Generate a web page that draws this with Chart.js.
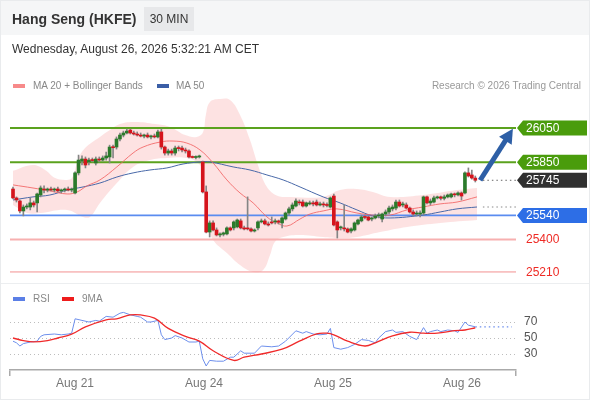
<!DOCTYPE html>
<html><head><meta charset="utf-8">
<script src="https://cdn.jsdelivr.net/npm/chart.js@4.4.0/dist/chart.umd.min.js"></script>
<style>
body{margin:0;background:#fff;font-family:"Liberation Sans",Arial,sans-serif;}
#wrap{position:relative;width:590px;height:400px;overflow:hidden;background:#fff;}
canvas{position:absolute;left:0;}
.t{position:absolute;white-space:nowrap;z-index:3;}
#hdr{position:absolute;left:0;top:0;width:590px;height:35px;background:#f5f6f7;z-index:2;}
.sw{position:absolute;height:4px;width:12px;z-index:3;}
#frame{position:absolute;left:0;top:0;width:588px;height:398px;border:1px solid #e9ebed;z-index:5;pointer-events:none;}
#sep{position:absolute;left:0;top:283px;width:590px;height:1px;background:#eceef0;z-index:3;}
</style></head>
<body><div id="wrap">
<canvas id="main" width="590" height="283" style="top:0;width:590px;height:283px"></canvas>
<canvas id="rsi" width="590" height="117" style="top:283px;width:590px;height:117px"></canvas>
<div id="hdr"></div>
<div class="t" style="left:12px;top:9px;font-size:14px;font-weight:bold;color:#333;line-height:20px">Hang Seng (HKFE)</div>
<div class="t" style="left:144px;top:7px;width:50px;height:24px;line-height:24px;text-align:center;background:#e7e8ea;font-size:12px;color:#333">30 MIN</div>
<div class="t" style="left:12px;top:41px;font-size:12px;color:#333;line-height:16px">Wednesday, August 26, 2026 5:32:21 AM CET</div>
<div class="sw" style="left:13px;top:84px;background:#f78a8a"></div>
<div class="t" style="left:33px;top:79px;font-size:10px;color:#888;line-height:14px">MA 20 + Bollinger Bands</div>
<div class="sw" style="left:157px;top:84px;background:#3b5ea6"></div>
<div class="t" style="left:176px;top:79px;font-size:10px;color:#888;line-height:14px">MA 50</div>
<div class="t" style="right:9px;top:79px;font-size:10px;color:#999;line-height:14px">Research © 2026 Trading Central</div>
<div id="sep"></div>
<div class="sw" style="left:13px;top:297px;background:#5b7fe6"></div>
<div class="t" style="left:33px;top:292px;font-size:10px;color:#888;line-height:14px">RSI</div>
<div class="sw" style="left:62px;top:297px;background:#ee1c1c"></div>
<div class="t" style="left:82px;top:292px;font-size:10px;color:#888;line-height:14px">9MA</div>
<div id="frame"></div>
</div>
<script>
// ---- price candles (30 min bars) ----
const opens = [25694,25642,25624,25566,25589,25589,25613,25613,25659,25694,25688,25694,25688,25694,25683,25688,25694,25688,25671,25788,
25857,25869,25852,25863,25846,25869,25863,25875,25881,25939,25939,25986,26009,26021,26038,26021,26015,26009,26003,26009,
25998,26003,25998,26027,25939,25904,25916,25904,25933,25933,25922,25916,25881,25878,25881,25852,25677,25443,25496,25455,
25426,25430,25432,25467,25467,25473,25508,25467,25467,25461,25449,25467,25502,25508,25490,25502,25502,25508,25496,25519,
25554,25578,25595,25618,25618,25595,25607,25613,25618,25601,25607,25601,25589,25653,25502,25467,25467,25461,25449,25455,
25490,25508,25531,25531,25519,25525,25537,25519,25548,25560,25578,25583,25618,25601,25601,25583,25560,25548,25548,25554,
25648,25613,25618,25642,25648,25640,25648,25648,25665,25660,25671,25671,25788,25776,25758];
const highs = [25706,25648,25630,25601,25607,25642,25624,25671,25712,25712,25700,25706,25700,25706,25694,25700,25706,25700,25794,25892,
25887,25881,25875,25875,25881,25881,25887,25910,25950,25950,25998,26021,26032,26044,26044,26032,26027,26021,26015,26021,
26009,26015,26038,26044,25945,25927,25927,25945,25945,25945,25933,25922,25887,25887,25892,25857,25712,25508,25508,25467,
25438,25443,25473,25473,25508,25519,25519,25478,25648,25467,25461,25508,25519,25519,25502,25531,25519,25513,25531,25560,
25589,25613,25636,25630,25630,25618,25624,25624,25630,25618,25618,25613,25648,25665,25508,25478,25601,25467,25467,25502,
25519,25542,25542,25537,25531,25548,25554,25554,25572,25595,25601,25630,25630,25618,25613,25589,25572,25566,25566,25653,
25653,25636,25653,25653,25653,25659,25665,25671,25671,25677,25677,25794,25817,25805,25770];
const lows = [25636,25618,25554,25537,25578,25572,25589,25560,25648,25671,25677,25683,25677,25677,25671,25677,25683,25677,25665,25776,
25834,25817,25834,25852,25834,25852,25857,25863,25846,25875,25927,25975,25998,26015,26015,26009,26003,25998,25992,25992,
25986,25992,25992,25927,25892,25892,25892,25892,25916,25910,25904,25875,25875,25870,25875,25671,25438,25414,25449,25420,
25414,25420,25426,25449,25455,25467,25461,25455,25455,25443,25443,25455,25496,25484,25478,25490,25490,25490,25467,25513,
25542,25566,25589,25601,25589,25589,25601,25595,25595,25595,25589,25589,25583,25478,25408,25455,25449,25438,25438,25449,
25484,25502,25519,25508,25508,25519,25525,25502,25537,25548,25566,25572,25589,25589,25578,25554,25537,25537,25531,25542,
25607,25601,25613,25636,25630,25630,25642,25642,25648,25653,25630,25665,25764,25752,25735];
const closes = [25642,25630,25566,25589,25595,25613,25601,25665,25700,25688,25694,25688,25694,25683,25688,25694,25688,25694,25788,25863,
25869,25834,25863,25860,25869,25863,25875,25887,25939,25935,25986,26009,26021,26032,26021,26015,26009,26003,26009,25998,
26003,25998,26027,25939,25904,25916,25904,25933,25930,25922,25916,25881,25878,25881,25887,25677,25443,25496,25455,25426,
25430,25438,25467,25455,25502,25513,25467,25461,25461,25449,25455,25502,25508,25490,25484,25496,25508,25500,25525,25554,
25578,25601,25624,25613,25595,25613,25613,25607,25601,25607,25601,25598,25642,25484,25455,25473,25461,25443,25461,25496,
25513,25531,25528,25513,25525,25537,25542,25548,25560,25583,25589,25618,25595,25607,25583,25560,25548,25554,25554,25648,
25613,25624,25642,25648,25640,25648,25659,25665,25660,25671,25653,25788,25770,25758,25745];

// ---- moving averages & Bollinger Bands (bar position, value) ----
const ma20Idx = [0,5.8,10.7,15.7,18.6,21.4,25.2,30.1,34.8,37.7,42.6,46.4,50.4,54.2,58,62,65.8,69.6,73.6,76.5,79.4,83.2,86.1,89.9,93.9,99.7,104.3,109.3,114.2,118.8,123.8,128.7,134.5];
const ma20Val = [25718,25700,25683,25665,25677,25712,25747,25823,25904,25939,25968,25974,25962,25922,25846,25747,25671,25613,25531,25496,25478,25519,25548,25566,25578,25554,25542,25542,25572,25589,25607,25618,25648];
const upperIdx = [0,5.8,9.3,12.2,15.1,17.1,18.8,20.9,25.2,28.1,31,35.4,41.2,45.5,49.9,53.3,55.1,55.9,57.1,60,62.9,65.8,68.7,71,73.6,76.8,80.3,89.9,94.8,99.7,104.3,109.3,118.8,128.7,134.5];
const upperVal = [25800,25834,25805,25758,25747,25758,25863,25933,25998,26038,26073,26085,26073,26056,26009,25998,26027,26126,26202,26219,26213,26126,25980,25834,25706,25653,25648,25648,25688,25694,25677,25648,25659,25688,25700];
const lowerIdx = [0,4.1,7.8,15.7,20.3,22.3,25.2,30.1,34.8,39.7,44.6,50.4,54.2,55.4,56.5,58,62,65.8,69.6,72.5,74.5,75.9,78.3,83.2,89.9,94.8,99.7,106.4,114.2,123.8,134.5];
const lowerVal = [25601,25554,25554,25572,25531,25531,25613,25729,25823,25863,25875,25875,25834,25747,25484,25397,25321,25251,25210,25222,25309,25385,25414,25426,25414,25408,25414,25443,25473,25496,25513];
const ma50Idx = [0,5.8,10.7,15.7,20.3,25.2,30.1,34.8,39.7,44.6,49.3,54.2,57.1,63.8,68.7,73.6,78.3,83.2,89.9,94.8,99.7,104.3,109.3,118.8,123.8,128.7,134.5];
const ma50Val = [25630,25648,25659,25688,25706,25729,25764,25788,25805,25817,25840,25852,25852,25823,25805,25776,25747,25706,25648,25613,25572,25537,25525,25542,25560,25578,25589];

// ---- key levels ----
const resistances = [26050, 25850];
const lastPrice = 25745;
const pivot = 25540;
const supports = [25400, 25210];
const arrowFrom = [135.4, 25745];
const arrowTo = [144.9, 26045];
const extFrom = 136.2;

// ---- RSI ----
const rsiIdx = [0,1,2,3,5,7,8,9,12,14,16,17,18,20,22,24,25,27,29,31,32,34,36,37,39,40,42,43,44,46,47,49,51,53,54,55,56,57,59,61,63,64,66,67,70,72,75,77,79,82,84,85,87,89,91,92,93,95,97,99,101,103,105,106,108,110,111,113,115,117,119,120,121,123,124,126,128,129,131,132,134];
const rsiVal = [46,44,40,43,45,46,52,54,55,54,55,56,74,72,70,72,71,77,76,81,82,79,77,76,70,70,72,54,48,50,53,50,45,45,46,24,15,22,21,21,26,26,34,31,31,40,39,40,46,59,56,58,55,54,55,62,38,36,38,42,48,47,44,50,58,60,57,58,52,48,63,56,58,60,58,60,59,57,70,66,64];
const ma9Idx = [0,3,6,10,13,17,21,27,30,34,37,41,45,50,54,58,64,67,72,78,83,88,91,93,97,102,105,110,115,119,123,128,131,134];
const ma9Val = [50,46.8,45.2,46.8,50,54.8,64,72.8,74,78.8,78.8,74.8,62,52,46,34,22,26,30,36,46,55.2,56,54,46,40,44,52.8,57.2,56,56,59.2,60,62.8];
const rsiTicks = [30, 50, 70];
const dayIdx = [17.97, 55.36, 92.75, 130.14];
const dayLabels = ['Aug 21', 'Aug 24', 'Aug 25', 'Aug 26'];

// ---- build ----
Chart.defaults.font.family = "'Liberation Sans', Arial, sans-serif";
Chart.defaults.animation = false;
const X_MIN = -0.87, X_MAX = 145.8;
const idx = closes.map((_, i) => i);
const pts = (xs, ys) => xs.map((x, k) => ({x: x, y: ys[k]}));
const hline = (v, a, b) => [{x: a, y: v}, {x: b, y: v}];
const lineDs = (data, color, width, order, extra) => Object.assign({type: 'line', data: data, borderColor: color, borderWidth: width, pointRadius: 0, fill: false, order: order}, extra || {});

const GREEN_LINE = '#5ba21e', GREEN_TAG = '#4a9c0c', BLUE_LINE = '#5b8cf0', BLUE_TAG = '#2d6ee6', DARK_TAG = '#303030', RED_TXT = '#ee2a24';

const tagPlugin = {
  id: 'tags',
  afterDraw(chart) {
    const ctx = chart.ctx, ys = chart.scales.y, x0 = chart.chartArea.right;
    const xr = chart.width - 3;
    ctx.save();
    ctx.font = "12px 'Liberation Sans', Arial, sans-serif";
    ctx.textBaseline = 'middle';
    const tag = (p, bg) => {
      const y = ys.getPixelForValue(p);
      ctx.fillStyle = bg;
      ctx.beginPath();
      ctx.moveTo(x0 + 1, y); ctx.lineTo(x0 + 7, y - 7.5); ctx.lineTo(xr, y - 7.5);
      ctx.lineTo(xr, y + 7.5); ctx.lineTo(x0 + 7, y + 7.5); ctx.closePath(); ctx.fill();
      ctx.fillStyle = '#fff';
      ctx.fillText(String(p), x0 + 10, y + 0.5);
    };
    resistances.forEach(p => tag(p, GREEN_TAG));
    tag(lastPrice, DARK_TAG);
    tag(pivot, BLUE_TAG);
    ctx.fillStyle = RED_TXT;
    supports.forEach(p => ctx.fillText(String(p), x0 + 10, ys.getPixelForValue(p) + 0.5));
    ctx.restore();
  },
  afterDatasetsDraw(chart) {
    const ctx = chart.ctx, xs = chart.scales.x, ys = chart.scales.y;
    const x1 = xs.getPixelForValue(arrowFrom[0]), y1 = ys.getPixelForValue(arrowFrom[1]);
    const x2 = xs.getPixelForValue(arrowTo[0]), y2 = ys.getPixelForValue(arrowTo[1]);
    const ang = Math.atan2(y2 - y1, x2 - x1), head = 14, hw = 7.5;
    const bx = x2 - head * Math.cos(ang), by = y2 - head * Math.sin(ang);
    ctx.save();
    ctx.strokeStyle = '#2e5fa6'; ctx.fillStyle = '#2e5fa6'; ctx.lineWidth = 5;
    ctx.beginPath(); ctx.moveTo(x1, y1); ctx.lineTo(bx + Math.cos(ang), by + Math.sin(ang)); ctx.stroke();
    ctx.beginPath(); ctx.moveTo(x2, y2);
    ctx.lineTo(bx + hw * Math.sin(ang), by - hw * Math.cos(ang));
    ctx.lineTo(bx - hw * Math.sin(ang), by + hw * Math.cos(ang));
    ctx.closePath(); ctx.fill();
    ctx.restore();
  }
};

new Chart(document.getElementById('main'), {
  type: 'bar',
  data: {datasets: [
    lineDs(pts(upperIdx, upperVal), 'rgba(0,0,0,0)', 0, 10, {fill: '+1', backgroundColor: 'rgba(252,198,198,0.5)', tension: 0.4}),
    lineDs(pts(lowerIdx, lowerVal), 'rgba(0,0,0,0)', 0, 10, {tension: 0.4}),
    lineDs(hline(resistances[0], X_MIN, X_MAX), GREEN_LINE, 2, 6),
    lineDs(hline(resistances[1], X_MIN, X_MAX), GREEN_LINE, 2, 6),
    lineDs(hline(pivot, X_MIN, X_MAX), BLUE_LINE, 1.6, 6),
    lineDs(hline(supports[0], X_MIN, X_MAX), '#f7b0b0', 2, 6),
    lineDs(hline(supports[1], X_MIN, X_MAX), '#f29090', 1, 6),
    lineDs(hline(lastPrice, extFrom, X_MAX), '#666', 1, 6, {borderDash: [1.5, 3]}),
    lineDs(hline(ma50Val[ma50Val.length - 1], extFrom, X_MAX), '#888', 1, 6, {borderDash: [1.5, 3]}),
    lineDs(pts(ma20Idx, ma20Val), 'rgba(242,100,100,0.85)', 1, 4, {tension: 0.4}),
    lineDs(pts(ma50Idx, ma50Val), '#4868a8', 1, 4, {tension: 0.4}),
    {type: 'bar', data: idx.map(i => ({x: i, y: [lows[i], highs[i]]})), backgroundColor: '#858585', barThickness: 1, grouped: false, order: 2},
    {type: 'bar', data: idx.map(i => ({x: i, y: [opens[i], closes[i]]})),
     backgroundColor: c => closes[c.dataIndex] >= opens[c.dataIndex] ? '#2b7a2b' : '#d5141c',
     barThickness: 3, minBarLength: 1, grouped: false, order: 1}
  ]},
  options: {
    responsive: false, animation: false,
    layout: {padding: {left: 10, right: 74, top: 97, bottom: 3}},
    plugins: {legend: {display: false}, tooltip: {enabled: false}},
    scales: {
      x: {type: 'linear', min: X_MIN, max: X_MAX, offset: false, display: false},
      y: {type: 'linear', min: 25163, max: 26231, display: false}
    }
  },
  plugins: [tagPlugin]
});

new Chart(document.getElementById('rsi'), {
  type: 'line',
  data: {datasets: [
    lineDs(pts(rsiIdx, rsiVal), '#6d8fec', 1, 2),
    lineDs(pts(ma9Idx, ma9Val), '#f02a2a', 1.3, 1, {tension: 0.4}),
    lineDs(hline(rsiVal[rsiVal.length - 1], rsiIdx[rsiIdx.length - 1], 144.6), '#6d8fec', 1.2, 3, {borderDash: [1.5, 3]})
  ]},
  options: {
    responsive: false, animation: false,
    layout: {padding: {left: 10, right: 0, top: 23, bottom: 0}},
    plugins: {legend: {display: false}, tooltip: {enabled: false}},
    scales: {
      x: {type: 'linear', min: X_MIN, max: X_MAX, offset: false, position: 'bottom',
        afterBuildTicks: s => { s.ticks = [X_MIN].concat(dayIdx, [X_MAX]).map(v => ({value: v})); },
        afterFit: s => { s.height = 30; },
        ticks: {autoSkip: false, maxRotation: 0, color: '#777', font: {size: 12}, padding: 0,
          callback: v => { const k = dayIdx.indexOf(v); return k >= 0 ? dayLabels[k] : ''; }},
        grid: {drawOnChartArea: false, drawTicks: true, tickLength: 6, lineWidth: 1.5,
          color: c => (c.tick && (c.tick.value === X_MIN || c.tick.value === X_MAX)) ? '#aaa' : 'rgba(0,0,0,0)'},
        border: {display: true, color: '#aaa', width: 1.5}
      },
      y: {type: 'linear', position: 'right', min: 10, max: 90,
        afterBuildTicks: s => { s.ticks = rsiTicks.map(v => ({value: v})); },
        afterFit: s => { s.width = 74; },
        ticks: {color: '#555', font: {size: 12}, padding: 8},
        grid: {color: '#bdbdbd', drawTicks: false, lineWidth: 1},
        border: {display: false, dash: [1, 3]}
      }
    }
  }
});
</script>
</body></html>
